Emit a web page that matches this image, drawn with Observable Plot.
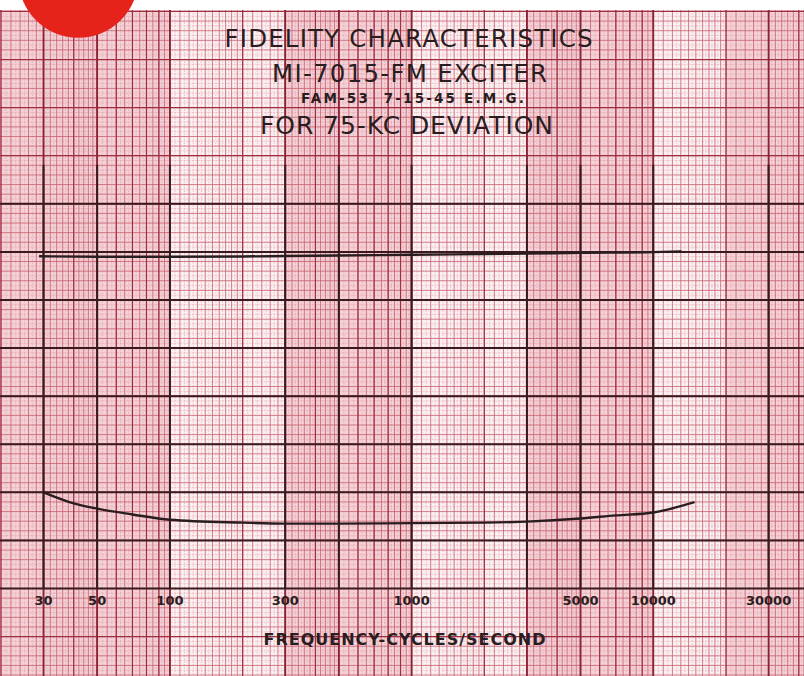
<!DOCTYPE html>
<html><head><meta charset="utf-8">
<script src="https://cdn.jsdelivr.net/npm/d3@7"></script>
<script src="https://cdn.jsdelivr.net/npm/@observablehq/plot@0.6"></script>
<style>
html,body{margin:0;padding:0;background:#fff;}
#chart svg{display:block;}
</style></head><body><div id="chart"></div>
<script>
// ---- data ----
const titleLine1 = "FIDELITY CHARACTERISTICS";
const titleLine2 = "MI-7015-FM EXCITER";
const titleLine3 = "FAM-53  7-15-45 E.M.G.";
const titleLine4 = "FOR 75-KC DEVIATION";
const xLabel = "FREQUENCY-CYCLES/SECOND";
const tickLabels = [30, 50, 100, 300, 1000, 5000, 10000, 30000];

const upperFreq  = [29, 50, 100, 200, 300, 500, 1000, 2000, 3000, 5000, 10000, 13000];
const upperLevel = [6.91, 6.9, 6.9, 6.905, 6.915, 6.925, 6.94, 6.955, 6.965, 6.98, 6.995, 7.01];

const lowerFreq  = [30, 40, 50, 70, 100, 200, 300, 500, 1000, 2000, 3000, 5000, 7000, 10000, 14700];
const lowerLevel = [2.0, 1.77, 1.66, 1.54, 1.43, 1.37, 1.35, 1.35, 1.36, 1.37, 1.39, 1.455, 1.52, 1.58, 1.79];

const heavyFreq = [30, 50, 100, 300, 500, 1000, 3000, 5000, 10000, 30000];
const heavyLevel = [0, 1, 2, 3, 4, 5, 6, 7, 8];
const bandStart = [20, 300, 3000, 20000];
const bandEnd   = [100, 1000, 10000, 45000];
const stampFreq = [41.8];
const stampLevel = [12.7];

// ---- graph paper structure ----
const xDomain = [19.91, 42240];
const yDomain = [-1.83, 12.02];
const decadeBases = [10, 100, 1000, 10000];
const xMinor = [], xSub = [], xMedium = [];
for (const b of decadeBases) {
  for (const [a, c, s] of [[1, 2, 0.1], [2, 5, 0.2], [5, 10, 0.5]]) {
    const n = Math.round((c - a) / s);
    for (let i = 0; i < n; i++) {
      const m = a + i * s;
      xMinor.push(m * b);
      xSub.push((m + s / 2) * b);
    }
  }
  for (let m = 1; m < 10; m++) xMedium.push(m * b);
}
const inX = v => v >= xDomain[0] && v <= xDomain[1];
const yMinor = [], ySub = [], yMedium = [];
for (let i = -18; i <= 120; i++) {
  const v = i / 10;
  if (i % 2 === 0) yMinor.push(v); else ySub.push(v);
}
for (let i = -1; i <= 12; i++) yMedium.push(i);

const upper = upperFreq.map((f, i) => ({f, level: upperLevel[i]}));
const lower = lowerFreq.map((f, i) => ({f, level: lowerLevel[i]}));
const bands = bandStart.map((s, i) => ({s, e: bandEnd[i]}));
const stamp = stampFreq.map((f, i) => ({f, level: stampLevel[i]}));

const ink = "#2a1d20";
const font = "DejaVu Sans";

const chart = Plot.plot({
  width: 804, height: 676,
  marginTop: 10, marginBottom: 0, marginLeft: 0, marginRight: 0,
  style: {background: "#ffffff", fontFamily: font, overflow: "visible"},
  x: {type: "log", domain: xDomain, axis: null},
  y: {domain: yDomain, axis: null},
  marks: [
    Plot.frame({fill: "#fbf0f1", stroke: null}),
    Plot.rect(bands, {x1: "s", x2: "e", y1: () => yDomain[0], y2: () => yDomain[1], fill: "#efbcc5", fillOpacity: 0.6}),
    Plot.ruleX(xSub.filter(inX), {stroke: "#d98a96", strokeWidth: 0.6, strokeOpacity: 0.6, strokeDasharray: "2,1"}),
    Plot.ruleY(ySub, {stroke: "#d98a96", strokeWidth: 0.6, strokeOpacity: 0.6, strokeDasharray: "2,1"}),
    Plot.ruleX(xMinor.filter(inX), {stroke: "#c65a6a", strokeWidth: 0.9, strokeOpacity: 0.85}),
    Plot.ruleY(yMinor, {stroke: "#c65a6a", strokeWidth: 0.9, strokeOpacity: 0.85}),
    Plot.ruleX(xMedium.filter(inX), {stroke: "#9e2f40", strokeWidth: 1.2}),
    Plot.ruleY(yMedium, {stroke: "#9e2f40", strokeWidth: 1.2}),
    Plot.ruleX(heavyFreq, {stroke: "#8a2435", strokeWidth: 1.8}),
    Plot.ruleX(heavyFreq, {y1: () => 0, y2: () => 8.8, stroke: "#3b1a1e", strokeWidth: 2}),
    Plot.ruleY(heavyLevel, {stroke: "#3b1a1e", strokeWidth: 2}),
    Plot.line(upper, {x: "f", y: "level", curve: "monotone-x", stroke: ink, strokeWidth: 2.4}),
    Plot.line(lower, {x: "f", y: "level", curve: "monotone-x", stroke: ink, strokeWidth: 2.4}),
    Plot.dot(stamp, {x: "f", y: "level", r: 60, fill: "#e5231b", stroke: null}),
    Plot.text(tickLabels, {x: d => d, y: () => 0, dy: 12, text: d => String(d), fontSize: 13, fontWeight: "bold", fill: ink}),
    Plot.text([titleLine1], {frameAnchor: "top", lineAnchor: "middle", dx: 6, dy: 29, text: d => d, fontSize: 24.5, fill: ink}),
    Plot.text([titleLine2], {frameAnchor: "top", lineAnchor: "middle", dx: 7, dy: 64, text: d => d, fontSize: 24.5, fill: ink}),
    Plot.text([titleLine3], {frameAnchor: "top", lineAnchor: "middle", dx: 10, dy: 88.5, text: d => d, fontSize: 13.5, fontWeight: "bold", fill: ink}),
    Plot.text([titleLine4], {frameAnchor: "top", lineAnchor: "middle", dx: 4, dy: 115, text: d => d, fontSize: 25, fill: ink}),
    Plot.text([xLabel], {frameAnchor: "bottom", lineAnchor: "middle", dx: 2, dy: -37, text: d => d, fontSize: 16, fontWeight: "bold", fill: ink})
  ]
});
document.getElementById("chart").append(chart);

// stretch the lettering to the widths of the original hand lettering
const fitWidths = new Map([[titleLine1, 368], [titleLine2, 275], [titleLine3, 223], [titleLine4, 293], [xLabel, 282]]);
d3.select(chart).selectAll("text").each(function() {
  const w = fitWidths.get(this.textContent);
  if (w) { this.setAttribute("textLength", w); this.setAttribute("lengthAdjust", "spacing"); }
});
</script>
</body></html>
